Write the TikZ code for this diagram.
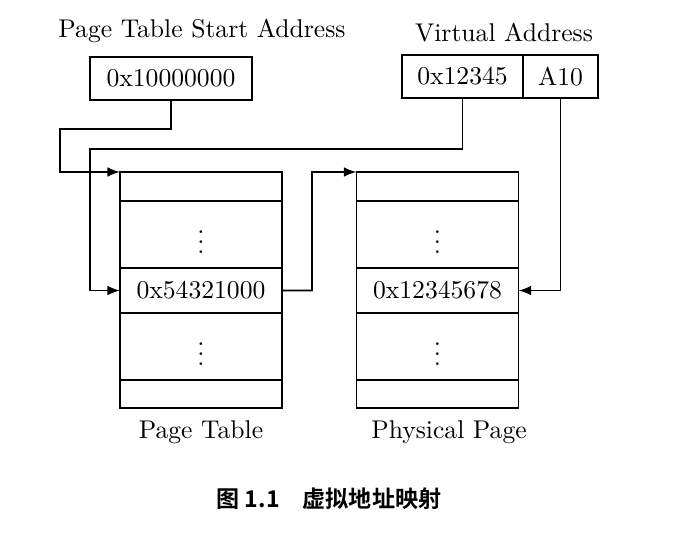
\documentclass[tikz,border=0pt]{standalone}
\usepackage{fontspec}
\newfontfamily\cjk[BoldFont={Noto Sans CJK SC Bold}]{Noto Sans CJK SC}
\tikzset{
	cell/.style={draw, line width=0.7pt, inner sep=0pt, outer sep=0pt, minimum width=63.2pt},
	link/.style={line width=0.7pt, -latex},
}

\begin{document}
\begin{tikzpicture}[x=0.39pt, y=-0.39pt]
			%%%%% START %%%%%
			
			\useasboundingbox (0, 0) rectangle (688, 534);
			
			\node (salabel) at (202, 31) {Page Table Start Address};
			\node[cell, minimum height=16.8pt] (sa) at (171, 78.5) {0x10000000};
			
			\node (valabel) at (504, 33) {Virtual Address};
			\node[cell, minimum width=47.2pt, minimum height=16.8pt] (va1) at (462.5, 76.5) {0x12345};
			\node[cell, minimum width=29.25pt, minimum height=16.8pt] (va2) at (560.5, 76.5) {A10};
			
			\node[cell, minimum height=11.3pt] (pt1) at (201, 186.5) {};
			\node[cell, minimum height=26.1pt] (pt2) at (201, 234.5) {$\vdots$};
			\node[cell, minimum height=17.55pt] (pt3) at (201, 290.5) {0x54321000};
			\node[cell, minimum height=26.1pt] (pt4) at (201, 346.5) {$\vdots$};
			\node[cell, minimum height=10.9pt] (pt5) at (201, 394) {};
			\node (ptlabel) at (201, 432) {Page Table};
			
			\node[cell, minimum height=11.3pt] (ph1) at (437.5, 186.5) {};
			\node[cell, minimum height=26.1pt] (ph2) at (437.5, 234.5) {$\vdots$};
			\node[cell, minimum height=17.55pt] (ph3) at (437.5, 290.5) {0x12345678};
			\node[cell, minimum height=26.1pt] (ph4) at (437.5, 346.5) {$\vdots$};
			\node[cell, minimum height=10.9pt] (ph5) at (437.5, 394) {};
			\node (phlabel) at (449, 432) {Physical Page};
			
			\coordinate (k1) at (60, 129);
			\coordinate (k2) at (90, 149);
			\coordinate (k3) at (312, 172);
			
			\draw[link] (sa.south) |- (k1) |- (pt1.north west);
			\draw[link] (va1.south) |- (k2) |- (pt3.west);
			\draw[link] (pt3.east) -| (k3) -- (ph1.north west);
			\draw[link] (va2.south) |- (ph3.east);
			
			\node (caption) at (329, 499) {\cjk\bfseries\fontsize{9}{11}\selectfont 图 1.1\quad 虚拟地址映射};
			
			%%%%% END %%%%%
\end{tikzpicture}
\end{document}
